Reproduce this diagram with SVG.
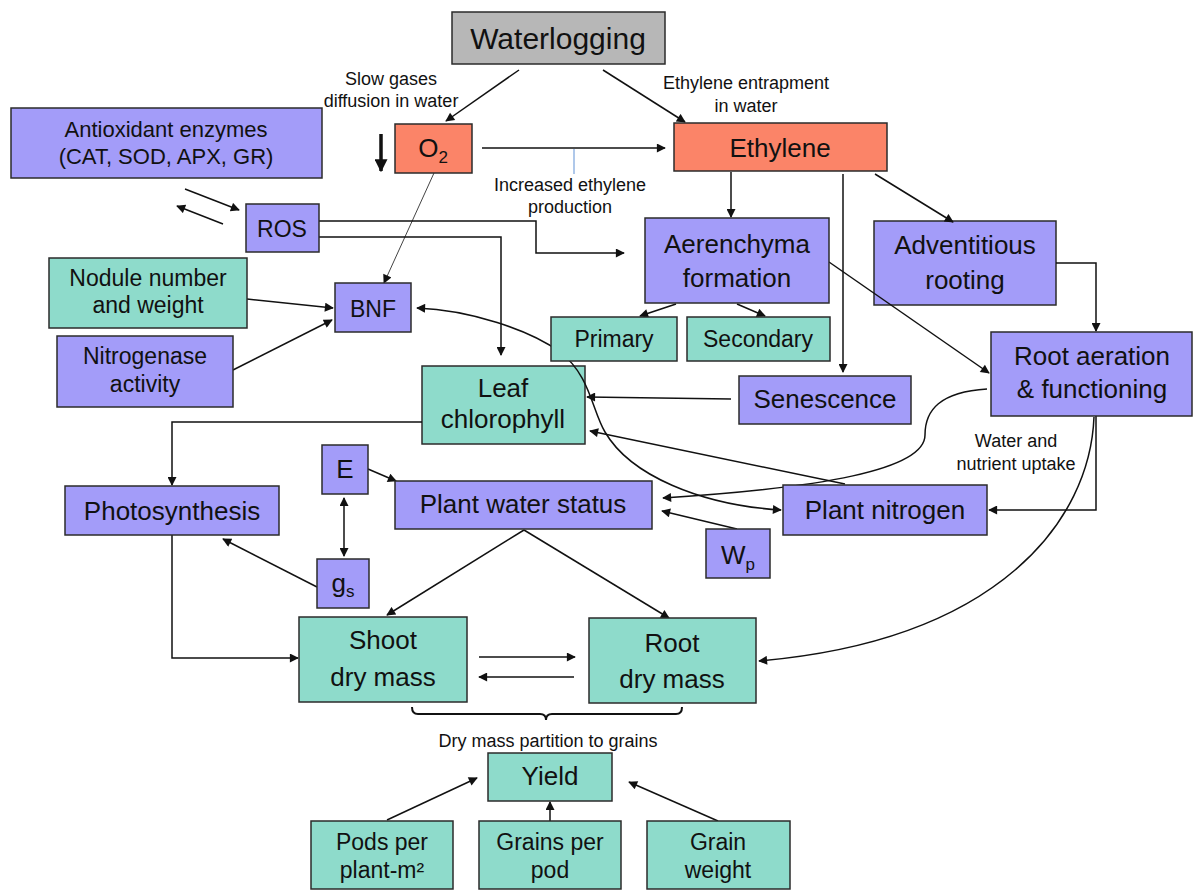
<svg xmlns="http://www.w3.org/2000/svg" width="1193" height="890" viewBox="0 0 1193 890">
<defs>
<style>
.bx{stroke:#2b2b2b;stroke-width:1.5}
.pu{fill:#a39cf9}
.te{fill:#8edbcb}
.sa{fill:#fb8468}
.gr{fill:#b7b7b7}
text{font-family:"Liberation Sans",Arial,sans-serif;fill:#111;text-anchor:middle}
.n{font-size:26px}
.m{font-size:23px}
.lab{font-size:18px}
.c{fill:none;stroke:#111;stroke-width:1.5}
.a{marker-end:url(#ah)}
.ab{marker-start:url(#ah);marker-end:url(#ah)}
</style>
<marker id="ah" viewBox="0 0 10 10" refX="9" refY="5" markerWidth="11" markerHeight="9" markerUnits="userSpaceOnUse" orient="auto-start-reverse"><path d="M0,0 L10,5 L0,10 z" fill="#111"/></marker>
<marker id="ahb" viewBox="0 0 10 10" refX="9" refY="5" markerWidth="13" markerHeight="13" markerUnits="userSpaceOnUse" orient="auto"><path d="M0,0 L10,5 L0,10 z" fill="#111"/></marker>
</defs>
<rect width="1193" height="890" fill="#fff"/>

<g id="leaf-chlorophyll"><rect class="bx te" x="422" y="366" width="163" height="78"/><text class="n" x="503" y="397">Leaf</text><text class="n" x="503" y="428">chlorophyll</text></g>
<g id="adventitious-rooting"><rect class="bx pu" x="874" y="221" width="182" height="84"/><text class="n" x="965" y="254">Adventitious</text><text class="n" x="965" y="289">rooting</text></g>

<g id="connectors">
<path class="c a" d="M519,70 L446,121"/>
<path class="c a" d="M603,70 L685,122"/>
<path class="c a" d="M482,148 L665,148"/>
<path d="M574,149 L574,174" stroke="#7aa3dc" stroke-width="1.2" fill="none"/>
<path d="M381,134 L381,171" stroke="#111" stroke-width="3.5" fill="none" marker-end="url(#ahb)"/>
<path d="M434,173 L384,283" fill="none" stroke="#444" stroke-width="1" marker-end="url(#ah)"/>
<path class="c a" d="M185,189 L239,210"/>
<path class="c a" d="M223,224 L177,206"/>
<path class="c a" d="M319,221 L536,221 L536,253 L624,253"/>
<path class="c a" d="M319,237 L501,237 L501,355"/>
<path class="c a" d="M247,299 L333,308"/>
<path class="c a" d="M233,370 L332,320"/>
<path class="c ab" d="M417,308 C470,310 530,330 560,352 C590,375 592,410 605,432 C630,475 700,505 781,510"/>
<path class="c a" d="M731,172 L731,217"/>
<path class="c a" d="M843,174 L843,372"/>
<path class="c a" d="M875,174 L953,222"/>
<path class="c a" d="M676,304 L640,316"/>
<path class="c a" d="M737,304 L765,316"/>
<path class="c a" d="M829,262 L989,373"/>
<path class="c a" d="M1056,263 L1096,263 L1096,331"/>
<path class="c a" d="M731,399 L587,397"/>
<path class="c a" d="M845,484 L590,431"/>
<path class="c a" d="M987,389 C940,392 925,410 925,435 C925,470 820,488 663,498"/>
<path class="c a" d="M1096,416 L1096,510 L989,510"/>
<path class="c a" d="M1094,417 C1090,520 1000,640 759,661"/>
<path class="c a" d="M422,422 L172,422 L172,485"/>
<path class="c a" d="M172,535 L172,658 L298,658"/>
<path class="c a" d="M368,469 L396,481"/>
<path class="c ab" d="M344,498 L344,556"/>
<path class="c a" d="M317,587 L223,539"/>
<path class="c a" d="M524,530 L387,615"/>
<path class="c a" d="M524,530 L669,618"/>
<path class="c a" d="M737,529 L662,511"/>
<path class="c a" d="M479,657 L575,657"/>
<path class="c a" d="M574,677 L479,677"/>
<path d="M412,707 Q412,714 418,714 L540,714 Q546,714 546,720 Q546,714 552,714 L676,714 Q682,714 682,707" fill="none" stroke="#111" stroke-width="2"/>
<path class="c a" d="M387,820 L477,778"/>
<path class="c a" d="M550,821 L550,802"/>
<path class="c a" d="M718,821 L629,782"/>
</g>

<g id="labels">
<text class="lab" x="391" y="85">Slow gases</text>
<text class="lab" x="391" y="107">diffusion in water</text>
<text class="lab" x="746" y="89">Ethylene entrapment</text>
<text class="lab" x="746" y="112">in water</text>
<text class="lab" x="570" y="191">Increased ethylene</text>
<text class="lab" x="570" y="213">production</text>
<text class="lab" x="1016" y="447">Water and</text>
<text class="lab" x="1016" y="470">nutrient uptake</text>
<text class="lab" x="548" y="747">Dry mass partition to grains</text>
</g>

<g id="waterlogging"><rect class="bx gr" x="452" y="12" width="213" height="52"/><text x="558" y="49" style="font-size:30px">Waterlogging</text></g>
<g id="o2"><rect class="bx sa" x="395" y="124" width="77" height="49"/><text class="n" x="433" y="157">O<tspan style="font-size:17px" dy="6">2</tspan></text></g>
<g id="ethylene"><rect class="bx sa" x="674" y="123" width="213" height="48"/><text class="n" x="780" y="157">Ethylene</text></g>
<g id="antioxidant-enzymes"><rect class="bx pu" x="11" y="108" width="311" height="70"/><text x="166" y="137" style="font-size:22px">Antioxidant enzymes</text><text x="166" y="164" style="font-size:22px">(CAT, SOD, APX, GR)</text></g>
<g id="ros"><rect class="bx pu" x="246" y="204" width="73" height="48"/><text class="m" x="282" y="237">ROS</text></g>
<g id="nodule"><rect class="bx te" x="49" y="258" width="198" height="70"/><text class="m" x="148" y="286">Nodule number</text><text class="m" x="148" y="313">and weight</text></g>
<g id="nitrogenase"><rect class="bx pu" x="57" y="336" width="176" height="71"/><text class="m" x="145" y="364">Nitrogenase</text><text class="m" x="145" y="392">activity</text></g>
<g id="bnf"><rect class="bx pu" x="335" y="283" width="76" height="49"/><text class="m" x="373" y="317">BNF</text></g>
<g id="aerenchyma"><rect class="bx pu" x="645" y="218" width="184" height="85"/><text class="n" x="737" y="253">Aerenchyma</text><text class="n" x="737" y="287">formation</text></g>
<g id="primary"><rect class="bx te" x="551" y="317" width="126" height="44"/><text class="m" x="614" y="347">Primary</text></g>
<g id="secondary"><rect class="bx te" x="687" y="317" width="143" height="44"/><text class="m" x="758" y="347">Secondary</text></g>
<g id="senescence"><rect class="bx pu" x="739" y="376" width="172" height="48"/><text class="n" x="825" y="408">Senescence</text></g>
<g id="root-aeration"><rect class="bx pu" x="991" y="332" width="201" height="84"/><text class="n" x="1092" y="365">Root aeration</text><text class="n" x="1092" y="398">&amp; functioning</text></g>
<g id="photosynthesis"><rect class="bx pu" x="65" y="486" width="214" height="49"/><text class="n" x="172" y="520">Photosynthesis</text></g>
<g id="e"><rect class="bx pu" x="322" y="445" width="46" height="49"/><text class="n" x="345" y="478">E</text></g>
<g id="plant-water-status"><rect class="bx pu" x="395" y="481" width="257" height="48"/><text class="n" x="523" y="513">Plant water status</text></g>
<g id="plant-nitrogen"><rect class="bx pu" x="783" y="485" width="204" height="50"/><text class="n" x="885" y="519">Plant nitrogen</text></g>
<g id="wp"><rect class="bx pu" x="706" y="529" width="64" height="49"/><text class="n" x="738" y="564">W<tspan style="font-size:17px" dy="6">p</tspan></text></g>
<g id="gs"><rect class="bx pu" x="317" y="559" width="52" height="49"/><text class="n" x="343" y="592">g<tspan style="font-size:17px" dy="5">s</tspan></text></g>
<g id="shoot-dry-mass"><rect class="bx te" x="299" y="617" width="168" height="85"/><text class="n" x="383" y="649">Shoot</text><text class="n" x="383" y="686">dry mass</text></g>
<g id="root-dry-mass"><rect class="bx te" x="589" y="618" width="167" height="85"/><text class="n" x="672" y="652">Root</text><text class="n" x="672" y="688">dry mass</text></g>
<g id="yield"><rect class="bx te" x="488" y="753" width="124" height="48"/><text class="n" x="550" y="785">Yield</text></g>
<g id="pods-per-plant"><rect class="bx te" x="311" y="821" width="142" height="68"/><text class="m" x="382" y="850">Pods per</text><text class="m" x="382" y="878">plant-m²</text></g>
<g id="grains-per-pod"><rect class="bx te" x="479" y="821" width="142" height="68"/><text class="m" x="550" y="850">Grains per</text><text class="m" x="550" y="878">pod</text></g>
<g id="grain-weight"><rect class="bx te" x="647" y="821" width="143" height="68"/><text class="m" x="718" y="850">Grain</text><text class="m" x="718" y="878">weight</text></g>
</svg>
